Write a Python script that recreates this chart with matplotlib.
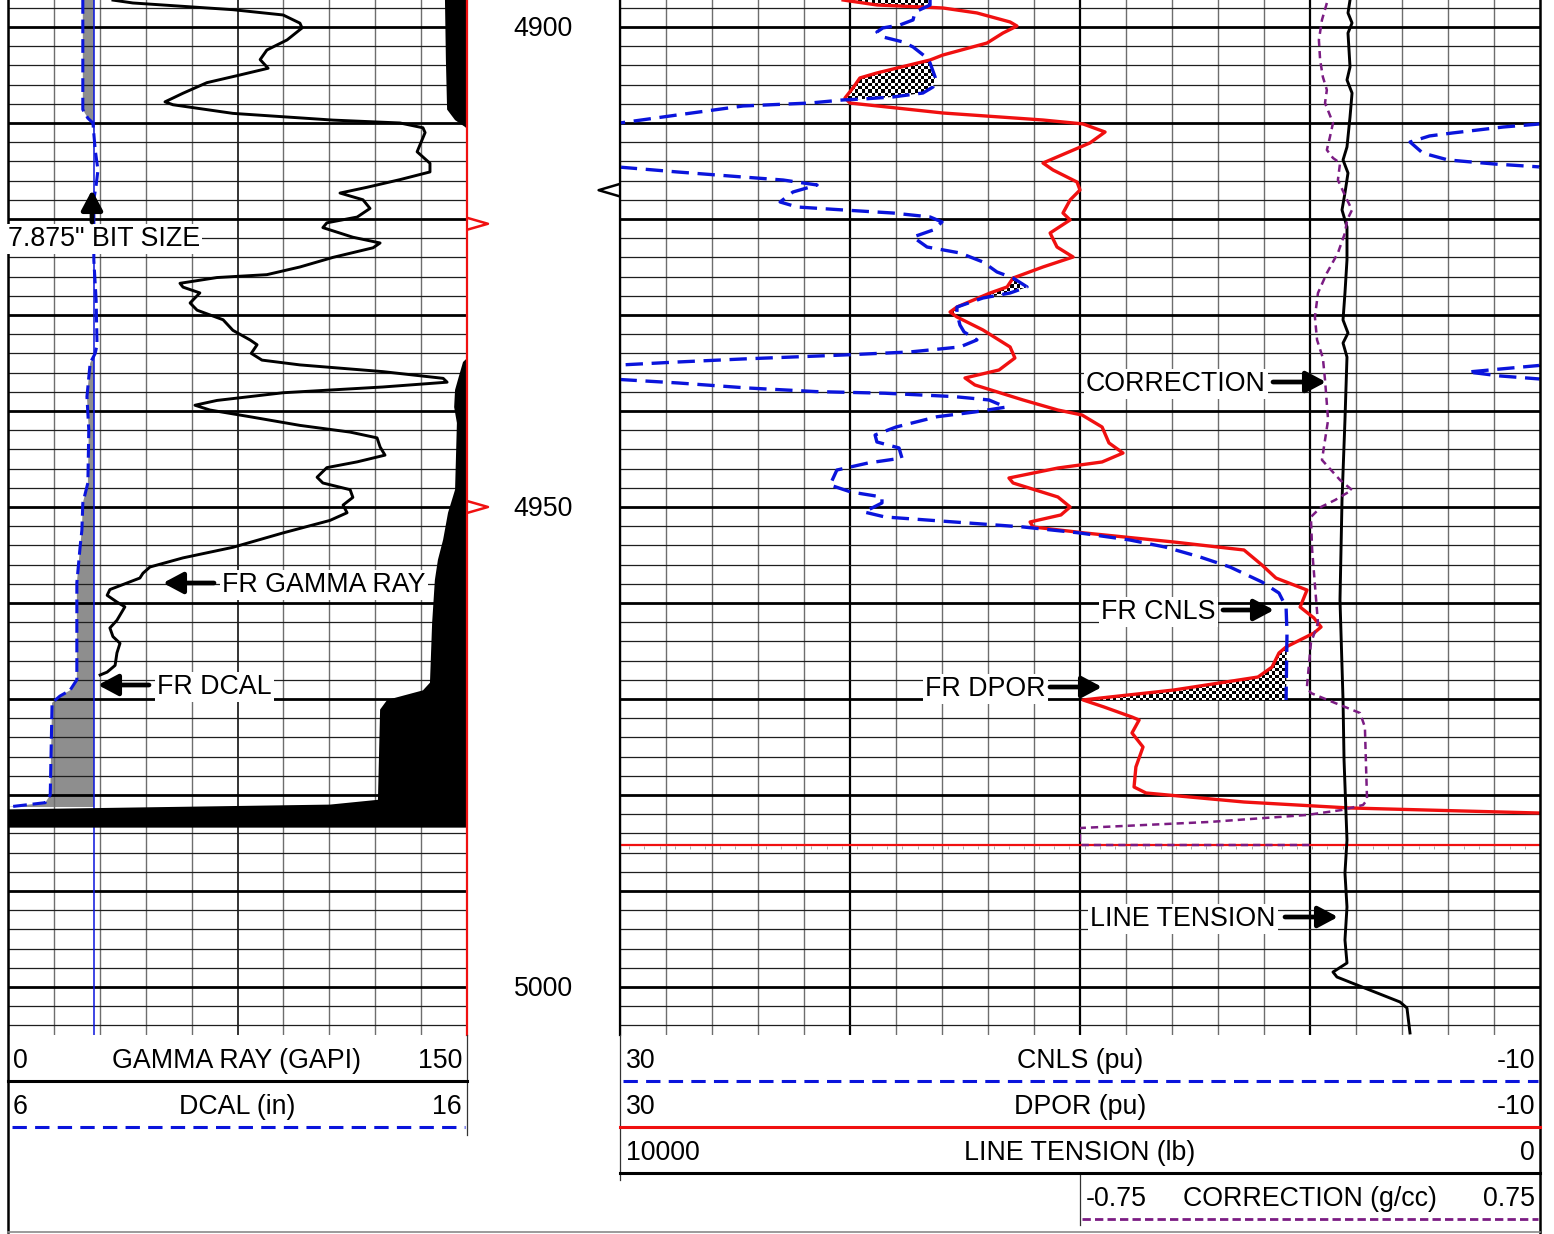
import numpy as np
import matplotlib.pyplot as plt
from matplotlib.path import Path
from matplotlib.patches import PathPatch

plt.rcParams['font.family'] = ['Liberation Sans', 'DejaVu Sans']
plt.rcParams['lines.solid_joinstyle'] = 'round'
plt.rcParams['lines.dash_joinstyle'] = 'round'

# ---------------------------------------------------------
# 1. Log data
# ---------------------------------------------------------
TOP, BOTTOM = 4897.19, 5005.0
BIT_SIZE = 7.875
depth_labels = [4900, 4950, 5000]
red_flags = [4920.5, 4950.0]
black_flags = [4917.0]
line_depth = 4985.2

gr_depth = [4897.2, 4897.5, 4898.2, 4898.75, 4899.6, 4900.1, 4901.35, 4902.4, 4903.4, 4904.3,
            4905.0, 4905.8, 4906.9, 4907.8, 4908.1, 4909.0, 4909.7, 4910.0, 4910.5, 4911.0,
            4913.0, 4914.2, 4915.1, 4915.9, 4916.7, 4917.3, 4918.0, 4918.9, 4919.8, 4920.4,
            4920.9, 4921.9, 4922.5, 4923.0, 4924.0, 4925.0, 4925.8, 4926.1, 4926.7, 4927.1,
            4927.7, 4928.75, 4929.5, 4930.5, 4931.6, 4932.6, 4933.1, 4934.0, 4934.7, 4935.2,
            4935.9, 4936.6, 4937.0, 4937.5, 4938.1, 4938.9, 4939.4, 4939.9, 4940.6, 4941.5,
            4942.2, 4942.8, 4943.75, 4944.6, 4945.3, 4945.9, 4946.9, 4947.5, 4948.2, 4949.0,
            4949.8, 4950.6, 4951.4, 4952.7, 4954.2, 4955.3, 4956.25, 4956.9, 4957.4, 4958.6,
            4959.2, 4959.9, 4960.4, 4961.8, 4962.6, 4963.5, 4964.2, 4965.2, 4966.5, 4967.2,
            4967.5]
gr_gapi = [34.3, 40.8, 73.5, 89.9, 95.4, 96.1, 91.2, 84.6, 82.4, 85.0,
           75.8, 65.0, 57.2, 51.3, 53.9, 73.5, 106.2, 128.1, 135.6, 136.3,
           133.7, 137.9, 137.9, 128.1, 117.3, 108.5, 116.0, 118.3, 114.1, 104.2,
           102.9, 112.7, 121.6, 119.3, 106.2, 95.4, 84.6, 68.3, 56.2, 57.2,
           62.7, 59.5, 61.8, 70.3, 73.5, 79.1, 81.4, 79.5, 83.0, 95.4,
           122.5, 142.2, 143.5, 122.5, 89.9, 68.3, 61.1, 66.0, 79.1, 95.4,
           111.8, 120.6, 121.6, 123.2, 114.1, 104.2, 101.0, 102.9, 111.8, 112.7,
           109.5, 110.8, 105.2, 89.9, 73.5, 57.2, 46.4, 44.1, 43.1, 33.3,
           32.4, 35.6, 38.2, 35.6, 33.3, 34.3, 36.6, 35.6, 35.0, 32.4,
           30.1]

dcal_depth = [4897.19, 4908.6, 4909.5, 4910.0, 4912.8, 4914.9, 4916.5, 4918.0, 4924.3, 4928.4,
              4933.1, 4934.0, 4935.0, 4938.5, 4942.0, 4947.5, 4949.6, 4952.4, 4954.2, 4957.9,
              4968.0, 4969.1, 4969.7, 4970.4, 4980.0, 4980.8, 4981.25]
dcal_in = [7.63, 7.63, 7.74, 7.85, 7.90, 7.96, 7.92, 7.87, 7.87, 7.92,
           7.94, 7.90, 7.79, 7.72, 7.76, 7.74, 7.63, 7.61, 7.57, 7.50,
           7.50, 7.35, 7.13, 6.96, 6.92, 6.81, 6.0]

# black shading in the gamma ray track (filled to the right edge)
shade_depth = [4897.19, 4903.4, 4908.6, 4909.7, 4910.4, 4910.6, 4910.7, 4934.5, 4934.9, 4936.0,
               4937.8, 4939.6, 4941.25, 4948.2, 4950.6, 4953.4, 4955.5, 4957.6, 4962.1, 4968.3,
               4969.1, 4970.1, 4971.1, 4980.5, 4981.0, 4981.5, 4983.4]
shade_gapi = [142.8, 143.1, 143.5, 146.1, 149.3, 150.0, np.nan, 150.0, 148.7, 147.7,
              146.1, 145.8, 146.7, 146.1, 143.8, 142.2, 140.5, 139.5, 138.6, 137.9,
              135.6, 123.9, 121.6, 120.9, 105.2, 0.0, 0.0]

cnls_depth = [4897.19, 4897.71, 4898.44, 4899.27, 4899.79, 4900.10, 4900.52, 4901.04, 4901.56, 4902.08,
              4903.23, 4903.75, 4905.21, 4906.25, 4906.88, 4907.29, 4907.50, 4907.60, 4907.92, 4908.23,
              4909.17, 4910.00, 4910.10, 4910.42, 4911.04, 4911.35, 4911.98, 4913.13, 4913.85, 4914.27,
              4914.58, 4914.60, 4915.10, 4915.63, 4915.94, 4916.46, 4917.19, 4918.23, 4918.75, 4919.06,
              4919.38, 4919.79, 4920.31, 4921.15, 4921.88, 4922.92, 4923.54, 4924.48, 4925.52, 4926.15,
              4927.08, 4927.71, 4928.23, 4929.17, 4929.79, 4931.04, 4931.77, 4932.60, 4933.33, 4933.85,
              4934.17, 4934.58, 4934.90, 4935.21, 4935.25, 4935.63, 4935.94, 4936.35, 4936.67, 4936.72,
              4937.08, 4937.60, 4937.98, 4938.15, 4938.50, 4938.85, 4939.60, 4940.10, 4940.60, 4941.67,
              4942.50, 4943.23, 4943.85, 4944.90, 4945.42, 4946.15, 4947.71, 4948.44, 4948.96, 4949.58,
              4950.52, 4951.04, 4951.56, 4952.08, 4952.71, 4953.44, 4954.17, 4955.21, 4956.25, 4957.81,
              4958.96, 4960.42, 4963.13, 4970.10]
cnls_pu = [16.52, 16.52, 17.17, 17.26, 17.83, 18.57, 18.83, 18.57, 17.70, 17.26,
           16.65, 16.52, 16.30, 16.39, 16.83, 18.13, 19.43, 20.30, 21.74, 24.65,
           27.52, 30.00, 30.00, 31.60, 33.80, 34.80, 35.65, 35.10, 34.00, 32.00,
           30.00, 30.00, 27.52, 24.65, 22.91, 21.43, 22.48, 23.04, 22.30, 20.30,
           18.13, 16.52, 16.00, 16.39, 17.26, 16.65, 15.22, 14.22, 13.61, 12.91,
           12.30, 13.04, 14.22, 15.35, 15.35, 15.22, 15.04, 14.48, 15.22, 17.39,
           20.30, 24.65, 27.52, 30.00, 30.00, 31.74, 33.13, 31.74, 30.00, 30.00,
           27.48, 24.48, 21.48, 18.48, 15.48, 13.96, 13.22, 14.57, 16.22, 18.00,
           18.91, 18.83, 17.87, 17.74, 19.22, 20.57, 20.87, 19.96, 18.61, 18.61,
           19.39, 18.48, 15.48, 12.48, 10.00, 7.83, 6.30, 4.78, 3.48, 2.09,
           1.35, 1.04, 1.00, 1.04]

dpor_depth = [4897.19, 4897.71, 4898.02, 4898.54, 4899.48, 4899.90, 4900.63, 4901.67, 4902.92, 4903.44,
              4904.79, 4905.31, 4906.35, 4907.40, 4907.92, 4908.96, 4909.69, 4910.10, 4910.94, 4912.08,
              4914.17, 4914.90, 4916.15, 4916.98, 4918.02, 4919.38, 4920.10, 4921.46, 4922.92, 4923.96,
              4925.00, 4926.15, 4927.08, 4927.71, 4929.17, 4929.69, 4930.21, 4931.56, 4933.33, 4934.48,
              4935.73, 4936.56, 4937.29, 4938.85, 4939.90, 4940.42, 4941.67, 4943.33, 4944.38, 4945.31,
              4945.94, 4946.98, 4947.50, 4948.96, 4950.00, 4950.83, 4951.56, 4952.08, 4952.71, 4953.65,
              4954.48, 4956.04, 4957.40, 4958.65, 4960.42, 4961.56, 4962.50, 4963.13, 4964.58, 4965.21,
              4966.67, 4967.71, 4969.06, 4970.10, 4970.83, 4971.88, 4972.19, 4973.54, 4975.00, 4977.08,
              4979.17, 4979.79, 4980.73, 4981.35, 4981.88]
dpor_pu = [20.30, 18.83, 15.96, 14.48, 13.04, 12.74, 13.35, 14.04, 15.96, 16.52,
           18.83, 19.57, 19.87, 20.22, 20.00, 15.96, 11.61, 9.87, 8.91, 9.57,
           11.61, 11.17, 10.13, 10.00, 10.43, 10.74, 10.43, 11.30, 11.00, 10.30,
           11.61, 12.91, 13.17, 13.91, 15.35, 15.65, 15.35, 14.22, 13.04, 12.83,
           13.52, 15.00, 14.57, 12.48, 10.96, 9.91, 9.04, 8.74, 8.13, 9.04,
           10.96, 13.09, 12.91, 10.96, 10.43, 10.83, 12.17, 12.04, 9.78, 5.91,
           2.87, 2.09, 1.48, 0.13, 0.43, -0.17, -0.48, -0.17, 1.04, 1.35,
           1.65, 2.26, 5.91, 9.87, 8.96, 7.74, 7.43, 7.74, 7.26, 7.57,
           7.65, 7.13, 2.87, -1.70, -10.0]

tens_depth = [4897.19, 4898.54, 4899.58, 4900.63, 4904.17, 4905.52, 4906.88, 4909.38, 4912.50, 4913.85,
              4915.21, 4917.29, 4919.06, 4920.83, 4924.27, 4927.71, 4930.52, 4931.88, 4932.92, 4934.38,
              4940.94, 4949.27, 4959.69, 4970.10, 4976.35, 4984.69, 4988.13, 4991.67, 4995.10, 4997.50,
              4998.44, 4998.96, 4999.79, 5001.56, 5002.19, 5004.79]
tens_lb = [2065, 2087, 2043, 2087, 2065, 2098, 2043, 2065, 2098, 2141,
           2087, 2120, 2152, 2098, 2098, 2120, 2141, 2087, 2141, 2098,
           2120, 2152, 2174, 2141, 2130, 2098, 2120, 2098, 2120, 2098,
           2250, 2207, 1989, 1522, 1446, 1413]

corr_depth = [4897.50, 4899.27, 4901.35, 4903.44, 4905.21, 4906.56, 4907.92, 4910.00, 4911.46, 4912.81,
              4913.65, 4914.17, 4915.94, 4918.02, 4919.06, 4920.10, 4921.46, 4923.54, 4925.63, 4927.71,
              4930.21, 4932.60, 4934.48, 4936.77, 4940.94, 4945.10, 4947.19, 4948.23, 4949.27, 4950.00,
              4951.04, 4954.48, 4959.69, 4962.08, 4964.17, 4968.75, 4969.38, 4970.42, 4971.46, 4972.92,
              4980.52, 4981.04, 4981.56, 4982.08, 4982.81, 4983.44, 4985.21, 4985.21]
corr_gcc = [0.055, 0.039, 0.029, 0.033, 0.042, 0.055, 0.049, 0.075, 0.065, 0.055,
            0.075, 0.098, 0.091, 0.121, 0.137, 0.121, 0.114, 0.091, 0.055, 0.026,
            0.016, 0.023, 0.042, 0.049, 0.059, 0.039, 0.098, 0.137, 0.082, 0.036,
            0.003, 0.007, 0.020, 0.026, 0.003, -0.010, 0.003, 0.082, 0.163, 0.179,
            0.186, 0.173, 0.104, -0.010, -0.329, -0.75, -0.75, 0.0]

# ---------------------------------------------------------
# 2. Styles
# ---------------------------------------------------------
BLUE, RED, PURPLE = '#0a14dc', '#f01010', '#7b1c83'
FS = 19.3
st_gr = dict(color='black', lw=2.1)
st_dcal = dict(color=BLUE, lw=2.2, ls=(0, (4.5, 1.9)))
st_cnls = dict(color=BLUE, lw=2.4, ls=(0, (5.2, 2.6)))
st_dpor = dict(color=RED, lw=2.4)
st_tens = dict(color='black', lw=2.1)
st_corr = dict(color=PURPLE, lw=1.8, ls=(0, (2.9, 2.0)))

W, H = 1554, 1234
fig = plt.figure(figsize=(W / 100, H / 100), dpi=100)


def px_axes(x0, x1, y0=0, y1=1035, **kw):
    return fig.add_axes([x0 / W, 1 - y1 / H, (x1 - x0) / W, (y1 - y0) / H], **kw)


def clean(ax):
    for s in ax.spines.values():
        s.set_visible(False)
    ax.tick_params(which='both', length=0, labelbottom=False, labelleft=False,
                   labeltop=False, labelright=False)


def depth_grid(ax):
    ax.set_yticks(np.arange(4900, 5001, 10))
    ax.set_yticks(np.arange(4898, 5005, 2), minor=True)
    ax.yaxis.grid(True, which='major', color='black', lw=2.0)
    ax.yaxis.grid(True, which='minor', color='#1e1e1e', lw=0.9)
    ax.set_axisbelow(True)


# ---------------------------------------------------------
# 3. Track 1: DCAL (base) + gamma ray (twin)
# ---------------------------------------------------------
ax_dc = px_axes(8, 467)
clean(ax_dc)
depth_grid(ax_dc)
ax_dc.set_xticks([11])
ax_dc.set_xticks(np.arange(6, 17, 1), minor=True)
ax_dc.xaxis.grid(True, which='major', color='#111111', lw=1.2)
ax_dc.xaxis.grid(True, which='minor', color='#6e6e6e', lw=1.0)

dc_d = np.array(dcal_depth)
dc_v = np.array(dcal_in)
ax_dc.fill_betweenx(dc_d, dc_v, BIT_SIZE, where=dc_v < BIT_SIZE, interpolate=True,
                    color='#8e8e8e', lw=0, zorder=0.4)
ax_dc.axvline(BIT_SIZE, color=BLUE, lw=1.1, zorder=1.5)
ax_dc.plot(dc_v, dc_d, zorder=2, **st_dcal)
ax_dc.set_xlim(6, 16)
ax_dc.set_ylim(BOTTOM, TOP)

ax_gr = ax_dc.twiny()
clean(ax_gr)
ax_gr.fill_betweenx(shade_depth, shade_gapi, 150, color='black', lw=0)
ax_gr.plot(gr_gapi, gr_depth, **st_gr)
ax_gr.set_xlim(0, 150)
ax_gr.set_ylim(BOTTOM, TOP)

# ---------------------------------------------------------
# 4. Depth track
# ---------------------------------------------------------
ax_d = px_axes(467, 620)
ax_d.set_xlim(0, 1)
ax_d.set_ylim(BOTTOM, TOP)
ax_d.axis('off')
for d in depth_labels:
    ax_d.text(0.5, d + 0.22, str(d), ha='center', va='center', fontsize=FS)
for d in red_flags:
    ax_d.plot([0.012, 0.137, 0.012], [d - 0.57, d, d + 0.57], color=RED, lw=1.8, clip_on=False)
for d in black_flags:
    ax_d.plot([0.995, 0.86, 0.995], [d - 0.63, d, d + 0.63], color='black', lw=1.8, clip_on=False)

# ---------------------------------------------------------
# 5. Track 2: CNLS / DPOR (base), tension (twin), correction
# ---------------------------------------------------------
ax_r = px_axes(620, 1540)
clean(ax_r)
depth_grid(ax_r)
ax_r.set_xticks([20, 10, 0])
ax_r.set_xticks(np.arange(-10, 31, 2), minor=True)
ax_r.xaxis.grid(True, which='major', color='black', lw=1.6)
ax_r.xaxis.grid(True, which='minor', color='#6e6e6e', lw=1.0)

cn_d = np.array(cnls_depth)
cn_v = np.array(cnls_pu)
dp_d = np.array(dpor_depth)
dp_v = np.array(dpor_pu)

# crossover shading (checker pattern clipped to the fill area)
dgrid = np.linspace(TOP, cn_d[-1], 4000)
cn_i = np.interp(dgrid, cn_d, cn_v)
dp_i = np.interp(dgrid, dp_d, dp_v)
fill = ax_r.fill_betweenx(dgrid, cn_i, dp_i, where=cn_i < dp_i, interpolate=True,
                          facecolor='none', edgecolor='none')
cell = 3.3
nx, ny = int(920 / cell), int(1035 / cell)
checker = (np.add.outer(np.arange(ny), np.arange(nx)) % 2).astype(float)
im = ax_r.imshow(checker, cmap='gray', extent=(30, -10, BOTTOM, TOP), aspect='auto',
                 interpolation='nearest', zorder=1.2)
clip = PathPatch(Path.make_compound_path(*fill.get_paths()), transform=ax_r.transData,
                 facecolor='none', edgecolor='none')
ax_r.add_patch(clip)
im.set_clip_path(clip)

ax_r.plot(dp_v, dp_d, zorder=2.5, **st_dpor)
# CNLS with wrap-around backup scale
ax_r.plot(np.where(cn_v <= 30, cn_v, np.nan), cn_d, zorder=2.6, **st_cnls)
ax_r.plot(np.where(cn_v >= 30, cn_v - 40, np.nan), cn_d, zorder=2.6, **st_cnls)

ax_r.axhline(line_depth, color=RED, lw=1.6, zorder=3)
ax_r.vlines(np.arange(29.6, -10, -0.66), line_depth + 0.1, line_depth + 0.4,
            color='#9a9a9a', lw=0.6, zorder=3)
ax_r.set_xlim(30, -10)
ax_r.set_ylim(BOTTOM, TOP)

ax_t = ax_r.twiny()
clean(ax_t)
ax_t.plot(tens_lb, tens_depth, **st_tens)
ax_t.set_xlim(10000, 0)
ax_t.set_ylim(BOTTOM, TOP)

ax_k = px_axes(1080, 1540)
ax_k.patch.set_visible(False)
clean(ax_k)
ax_k.plot(corr_gcc, corr_depth, **st_corr)
ax_k.set_xlim(-0.75, 0.75)
ax_k.set_ylim(BOTTOM, TOP)

# ---------------------------------------------------------
# 6. Frame, header and labels (pixel overlay)
# ---------------------------------------------------------
ov = fig.add_axes([0, 0, 1, 1])
ov.set_xlim(0, W)
ov.set_ylim(H, 0)
ov.axis('off')
ov.patch.set_visible(False)

ov.plot([8, 8], [0, 1232], color='black', lw=1.8)
ov.plot([1540, 1540], [0, 1234], color='black', lw=1.8)
ov.plot([620, 620], [0, 1035], color='black', lw=1.6)
ov.plot([620, 620], [1035, 1180], color='#333333', lw=0.9)
ov.plot([467, 467], [0, 1035], color=RED, lw=1.6)
ov.plot([467, 467], [1035, 1135], color='#333333', lw=0.9)
ov.plot([1080, 1080], [1173, 1225], color='#333333', lw=0.9)
ov.plot([8, 1540], [1232, 1232], color='#8a8a8a', lw=1.2)

ov.plot([8, 467], [1081, 1081], color='black', lw=2.2)
ov.plot([12, 465], [1127, 1127], color=BLUE, lw=2.2, ls=(0, (4.7, 2.7)))
ov.plot([623, 1538], [1081, 1081], color=BLUE, lw=2.2, ls=(0, (4.7, 2.7)))
ov.plot([620, 1540], [1127, 1127], color=RED, lw=2.2)
ov.plot([620, 1540], [1173, 1173], color='black', lw=2.2)
ov.plot([1082, 1538], [1219, 1219], color=PURPLE, lw=2.0, ls=(0, (3.0, 1.5)))

header = [
    (1059, 13, 237, 462, '0', 'GAMMA RAY (GAPI)', '150'),
    (1105, 13, 237, 462, '6', 'DCAL (in)', '16'),
    (1059, 626, 1080, 1535, '30', 'CNLS (pu)', '-10'),
    (1105, 626, 1080, 1535, '30', 'DPOR (pu)', '-10'),
    (1151, 626, 1080, 1535, '10000', 'LINE TENSION (lb)', '0'),
    (1197, 1086, 1310, 1535, '-0.75', 'CORRECTION (g/cc)', '0.75'),
]
for y, xl, xc, xr, lo, name, hi in header:
    ov.text(xl, y + 2, lo, ha='left', va='center', fontsize=FS)
    ov.text(xc, y + 2, name, ha='center', va='center', fontsize=FS)
    ov.text(xr, y + 2, hi, ha='right', va='center', fontsize=FS)

box = dict(facecolor='white', edgecolor='none', pad=1.5)
labels = [
    ('7.875" BIT SIZE', 8, 237),
    ('FR GAMMA RAY', 222, 583),
    ('FR DCAL', 157, 685),
    ('CORRECTION', 1086, 382),
    ('FR CNLS', 1101, 610),
    ('FR DPOR', 925, 687),
    ('LINE TENSION', 1090, 917),
]
for txt, x, y in labels:
    ov.text(x, y + 2, txt, ha='left', va='center', fontsize=FS, bbox=box)

arrows = [
    ((92, 222), (92, 190)),
    ((214, 583), (163, 583)),
    ((149, 685), (98, 685)),
    ((1273, 382), (1326, 382)),
    ((1223, 610), (1274, 610)),
    ((1050, 687), (1102, 687)),
    ((1285, 917), (1338, 917)),
]
for tail, tip in arrows:
    ov.annotate('', xy=tip, xytext=tail,
                arrowprops=dict(arrowstyle='-|>,head_length=0.6,head_width=0.32',
                                color='black', lw=3.4, mutation_scale=20,
                                shrinkA=0, shrinkB=0))

fig.savefig('out.png', dpi=100)
